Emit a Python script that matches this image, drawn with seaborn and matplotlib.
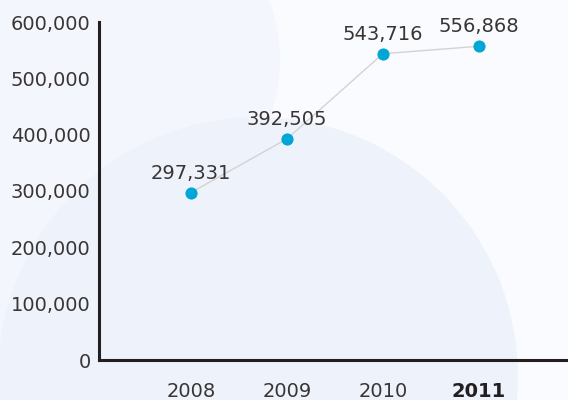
import matplotlib.pyplot as plt
import matplotlib.ticker as mticker
from matplotlib.patches import Circle
import pandas as pd
import seaborn as sns

# dados do gráfico
anos = [2008, 2009, 2010, 2011]
valores = [297331, 392505, 543716, 556868]
rotulos_x = ['2008', '2009', '2010', '2011']
ticks_y = [0, 100000, 200000, 300000, 400000, 500000, 600000]

df = pd.DataFrame({'Ano': anos, 'Valor': valores})

sns.set_style('white')
plt.rcParams['font.family'] = ['DejaVu Sans']

cor_texto = '#3a3535'
cor_eixo = '#231f20'
cor_ponto = '#00a6d6'

fig = plt.figure(figsize=(5.68, 4.0), dpi=100, facecolor='#f9fbfe')

# fundo decorativo (círculos claros), em polegadas a partir do canto inferior esquerdo
def circulo(x_px, y_px, r_px, cor):
    c = Circle((x_px / 100, (400 - y_px) / 100), r_px / 100, color=cor,
               transform=fig.dpi_scale_trans, zorder=-10, lw=0)
    fig.add_artist(c)

circulo(110, 60, 170, '#f3f6fc')
circulo(-120, 300, 260, '#f3f6fc')
circulo(258, 377, 260, '#edf2fb')

ax = fig.add_axes([99 / 568, 40 / 400, 469 / 568, 338 / 400])
ax.set_facecolor('none')

sns.lineplot(data=df, x='Ano', y='Valor', ax=ax, color='#d3d3d3', linewidth=1,
             marker='o', markersize=8, markerfacecolor=cor_ponto,
             markeredgecolor=cor_ponto, zorder=3)

# rótulos de valor acima dos pontos
for a, v in zip(anos, valores):
    ax.annotate(f'{v:,}', xy=(a, v), xytext=(0, 14), textcoords='offset points',
                ha='center', va='center', fontsize=14, color=cor_texto)

ax.set_xlim(2007.04, 2011.93)
ax.set_ylim(0, 600000)
ax.set_xticks(anos)
ax.set_xticklabels(rotulos_x)
ax.set_yticks(ticks_y)
ax.yaxis.set_major_formatter(mticker.FuncFormatter(lambda v, p: f'{v:,.0f}'))
ax.get_xticklabels()[-1].set_fontweight('bold')

ax.set_xlabel('')
ax.set_ylabel('')

for lado in ['top', 'right']:
    ax.spines[lado].set_visible(False)
for lado in ['left', 'bottom']:
    ax.spines[lado].set_color(cor_eixo)
    ax.spines[lado].set_linewidth(2.2)

ax.tick_params(axis='y', direction='in', length=8, width=2.2, color=cor_eixo,
               labelsize=14, labelcolor=cor_texto, pad=6)
ax.tick_params(axis='x', length=0, labelsize=14, labelcolor=cor_texto, pad=16)
for t in ax.get_xticklabels():
    t.set_color(cor_texto)
ax.get_xticklabels()[-1].set_color(cor_eixo)

fig.savefig('out.png', dpi=100, facecolor=fig.get_facecolor())
